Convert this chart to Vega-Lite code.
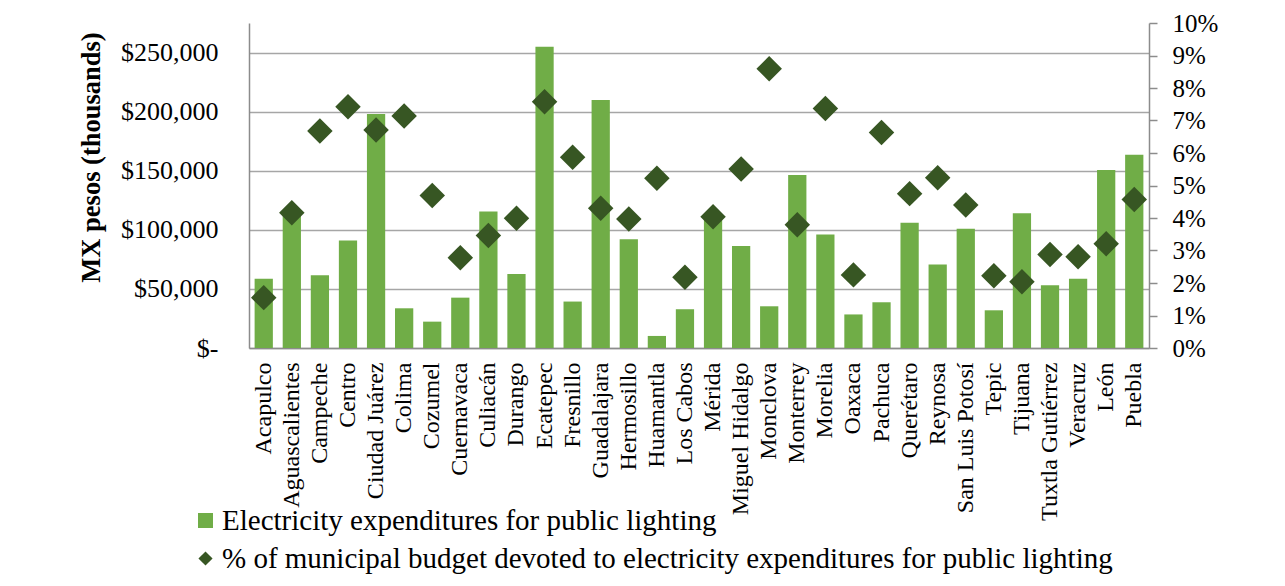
{
  "$schema": "https://vega.github.io/schema/vega-lite/v6.json",
  "width": 900,
  "height": 325,
  "autosize": {"type": "none"},
  "padding": {"left": 249, "top": 23, "right": 136, "bottom": 238},
  "background": "white",
  "config": {
    "font": "Liberation Serif",
    "view": {"stroke": null},
    "axis": {
      "labelFont": "Liberation Serif",
      "labelFontSize": 24,
      "labelColor": "#000000",
      "titleFont": "Liberation Serif",
      "titleColor": "#000000",
      "domainColor": "#8c8c8c",
      "domainWidth": 1.5,
      "tickColor": "#8c8c8c",
      "tickWidth": 1.5
    },
    "legend": {
      "labelFont": "Liberation Serif",
      "labelFontSize": 29,
      "labelColor": "#000000",
      "labelLimit": 0
    }
  },
  "data": {
    "values": [
      {"city": "Acapulco", "expenditure": 58500, "share": 0.0155},
      {"city": "Aguascalientes", "expenditure": 115000, "share": 0.0416},
      {"city": "Campeche", "expenditure": 61600, "share": 0.0668},
      {"city": "Centro", "expenditure": 90900, "share": 0.0742},
      {"city": "Ciudad Juárez", "expenditure": 198000, "share": 0.0671},
      {"city": "Colima", "expenditure": 33600, "share": 0.0714},
      {"city": "Cozumel", "expenditure": 22300, "share": 0.0469},
      {"city": "Cuernavaca", "expenditure": 42600, "share": 0.0278},
      {"city": "Culiacán", "expenditure": 115500, "share": 0.0346},
      {"city": "Durango", "expenditure": 62700, "share": 0.0399},
      {"city": "Ecatepec", "expenditure": 254800, "share": 0.0758},
      {"city": "Fresnillo", "expenditure": 39300, "share": 0.0587},
      {"city": "Guadalajara", "expenditure": 209900, "share": 0.0430},
      {"city": "Hermosillo", "expenditure": 92100, "share": 0.0397},
      {"city": "Huamantla", "expenditure": 10200, "share": 0.0522},
      {"city": "Los Cabos", "expenditure": 32800, "share": 0.0218},
      {"city": "Mérida", "expenditure": 112000, "share": 0.0404},
      {"city": "Miguel Hidalgo", "expenditure": 86400, "share": 0.0551},
      {"city": "Monclova", "expenditure": 35300, "share": 0.0859},
      {"city": "Monterrey", "expenditure": 146300, "share": 0.0379},
      {"city": "Morelia", "expenditure": 96000, "share": 0.0737},
      {"city": "Oaxaca", "expenditure": 28400, "share": 0.0225},
      {"city": "Pachuca", "expenditure": 38700, "share": 0.0663},
      {"city": "Querétaro", "expenditure": 105900, "share": 0.0475},
      {"city": "Reynosa", "expenditure": 70600, "share": 0.0524},
      {"city": "San Luis Potosí", "expenditure": 100800, "share": 0.0440},
      {"city": "Tepic", "expenditure": 31900, "share": 0.0222},
      {"city": "Tijuana", "expenditure": 114100, "share": 0.0204},
      {"city": "Tuxtla Gutiérrez", "expenditure": 53100, "share": 0.0288},
      {"city": "Veracruz", "expenditure": 58500, "share": 0.0281},
      {"city": "León", "expenditure": 150600, "share": 0.0321},
      {"city": "Puebla", "expenditure": 163600, "share": 0.0457}
    ]
  },
  "encoding": {
    "x": {
      "field": "city",
      "type": "nominal",
      "sort": null,
      "scale": {"paddingInner": 0.35, "paddingOuter": 0.2},
      "axis": {
        "title": null,
        "labelAngle": -90,
        "ticks": false,
        "labelPadding": 14,
        "grid": false
      }
    }
  },
  "layer": [
    {
      "mark": {"type": "bar"},
      "encoding": {
        "y": {
          "field": "expenditure",
          "type": "quantitative",
          "scale": {"domain": [0, 275000], "nice": false},
          "axis": {
            "orient": "left",
            "values": [0, 50000, 100000, 150000, 200000, 250000],
            "labelExpr": "datum.value === 0 ? '$-\u00a0\u00a0' : '$' + format(datum.value, ',')",
            "labelFontSize": 26,
            "grid": true,
            "gridColor": "#a6a6a6",
            "gridWidth": 1.3,
            "ticks": false,
            "labelPadding": 31,
            "title": "MX pesos (thousands)",
            "titleFontSize": 26.5,
            "titleFontWeight": "bold",
            "titleAngle": -90,
            "titleAlign": "center",
            "titleBaseline": "alphabetic",
            "titleX": -150,
            "titleY": 134
          }
        },
        "color": {
          "datum": "Electricity expenditures for public lighting",
          "scale": {
            "domain": [
              "Electricity expenditures for public lighting",
              "% of municipal budget devoted to electricity expenditures for public lighting"
            ],
            "range": ["#70ad47", "#375623"]
          },
          "legend": {
            "title": null,
            "orient": "none",
            "direction": "vertical",
            "legendX": -58,
            "legendY": 483,
            "padding": 0,
            "rowPadding": 8,
            "labelOffset": 2,
            "symbolStrokeWidth": 0,
            "encode": {
              "symbols": {
                "update": {
                  "shape": {"signal": "datum.value === 'Electricity expenditures for public lighting' ? 'square' : 'diamond'"},
                  "size": {"signal": "datum.value === 'Electricity expenditures for public lighting' ? 225 : 200"}
                }
              }
            }
          }
        }
      }
    },
    {
      "mark": {"type": "point", "shape": "diamond", "filled": true, "size": 650, "opacity": 1},
      "encoding": {
        "y": {
          "field": "share",
          "type": "quantitative",
          "scale": {"domain": [0, 0.1], "nice": false},
          "axis": {
            "orient": "right",
            "values": [0, 0.01, 0.02, 0.03, 0.04, 0.05, 0.06, 0.07, 0.08, 0.09, 0.1],
            "format": ".0%",
            "labelFontSize": 25,
            "grid": false,
            "ticks": true,
            "tickSize": 8,
            "labelPadding": 15,
            "title": null
          }
        },
        "color": {
          "datum": "% of municipal budget devoted to electricity expenditures for public lighting"
        }
      }
    }
  ],
  "resolve": {"scale": {"y": "independent"}}
}
